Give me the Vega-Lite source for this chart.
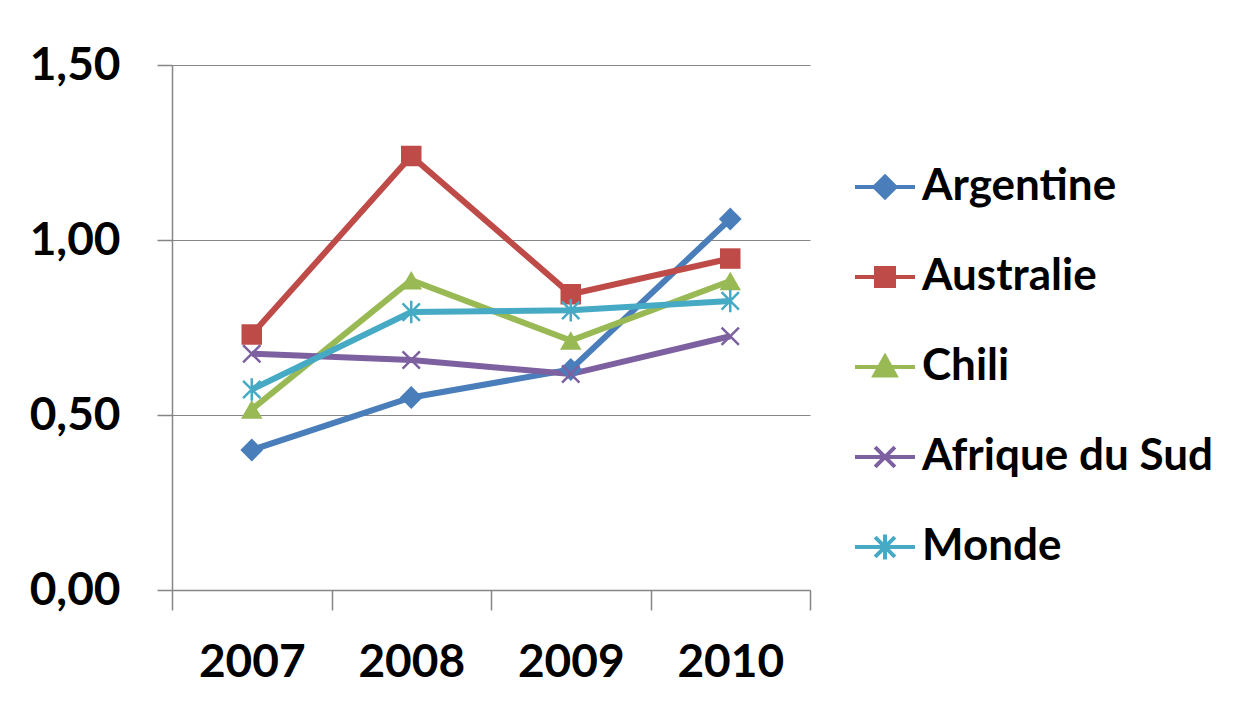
{
  "$schema": "https://vega.github.io/schema/vega-lite/v6.json",
  "width": 638,
  "height": 525,
  "autosize": "none",
  "padding": {"left": 172, "top": 65, "right": 444, "bottom": 126},
  "background": "white",
  "data": {
    "values": [
      {"pays": "Argentine", "annee": "2007", "valeur": 0.40},
      {"pays": "Argentine", "annee": "2008", "valeur": 0.55},
      {"pays": "Argentine", "annee": "2009", "valeur": 0.63},
      {"pays": "Argentine", "annee": "2010", "valeur": 1.06},
      {"pays": "Australie", "annee": "2007", "valeur": 0.73},
      {"pays": "Australie", "annee": "2008", "valeur": 1.24},
      {"pays": "Australie", "annee": "2009", "valeur": 0.845},
      {"pays": "Australie", "annee": "2010", "valeur": 0.947},
      {"pays": "Chili", "annee": "2007", "valeur": 0.516},
      {"pays": "Chili", "annee": "2008", "valeur": 0.885},
      {"pays": "Chili", "annee": "2009", "valeur": 0.713},
      {"pays": "Chili", "annee": "2010", "valeur": 0.883},
      {"pays": "Afrique du Sud", "annee": "2007", "valeur": 0.675},
      {"pays": "Afrique du Sud", "annee": "2008", "valeur": 0.657},
      {"pays": "Afrique du Sud", "annee": "2009", "valeur": 0.617},
      {"pays": "Afrique du Sud", "annee": "2010", "valeur": 0.725},
      {"pays": "Monde", "annee": "2007", "valeur": 0.573},
      {"pays": "Monde", "annee": "2008", "valeur": 0.794},
      {"pays": "Monde", "annee": "2009", "valeur": 0.799},
      {"pays": "Monde", "annee": "2010", "valeur": 0.826}
    ]
  },
  "encoding": {
    "x": {
      "field": "annee",
      "type": "ordinal",
      "scale": {"type": "band", "paddingInner": 0, "paddingOuter": 0},
      "axis": {
        "title": null,
        "labelAngle": 0,
        "tickBand": "extent",
        "tickSize": 20,
        "labelPadding": 30,
        "grid": false
      }
    },
    "y": {
      "field": "valeur",
      "type": "quantitative",
      "scale": {"domain": [0, 1.5], "nice": false},
      "axis": {
        "title": null,
        "values": [0, 0.5, 1, 1.5],
        "format": ".2f",
        "labelExpr": "replace(datum.label, '.', ',')",
        "tickSize": 15,
        "labelPadding": 37,
        "grid": true
      }
    },
    "color": {
      "field": "pays",
      "type": "nominal",
      "scale": {
        "domain": ["Argentine", "Australie", "Chili", "Afrique du Sud", "Monde"],
        "range": ["#4a7ebb", "#be4b48", "#98b954", "#7d60a0", "#46aac5"]
      },
      "legend": {
        "title": null,
        "orient": "none",
        "legendX": 681,
        "legendY": 90,
        "symbolSize": 3600,
        "symbolStrokeWidth": 5,
        "labelFont": "Lato",
        "labelFontWeight": "bold",
        "labelFontSize": 44,
        "labelColor": "black",
        "labelOffset": 5,
        "labelLimit": 400,
        "rowPadding": 36,
        "encode": {
          "symbols": {
            "update": {
              "shape": {
                "signal": "datum.value === 'Argentine' ? 'M-1,0H1M0,-0.35L0.35,0L0,0.35L-0.35,0Z' : datum.value === 'Australie' ? 'M-1,0H1M-0.3,-0.3H0.3V0.3H-0.3Z' : datum.value === 'Chili' ? 'M-1,0H1M0,-0.35L0.35,0.28H-0.35Z' : datum.value === 'Afrique du Sud' ? 'M-1,0H1M-0.33,-0.33L0.33,0.33M-0.33,0.33L0.33,-0.33' : 'M-1,0H1M-0.33,-0.33L0.33,0.33M-0.33,0.33L0.33,-0.33M0,-0.42V0.42'"
              },
              "fill": {"scale": "color", "field": "value"},
              "stroke": {"scale": "color", "field": "value"},
              "strokeWidth": {"value": 4}
            }
          }
        }
      }
    }
  },
  "layer": [
    {
      "mark": {"type": "line", "strokeWidth": 6}
    },
    {
      "transform": [{"filter": "datum.pays === 'Argentine'"}],
      "mark": {"type": "point", "shape": "diamond", "filled": true, "opacity": 1, "size": 520}
    },
    {
      "transform": [{"filter": "datum.pays === 'Australie'"}],
      "mark": {"type": "point", "shape": "square", "filled": true, "opacity": 1, "size": 420}
    },
    {
      "transform": [{"filter": "datum.pays === 'Chili'"}],
      "mark": {"type": "point", "shape": "triangle-up", "filled": true, "opacity": 1, "size": 460}
    },
    {
      "transform": [{"filter": "datum.pays === 'Afrique du Sud'"}],
      "mark": {"type": "point", "shape": "M-1,-1L1,1M-1,1L1,-1", "filled": false, "opacity": 1, "size": 300, "strokeWidth": 2.5}
    },
    {
      "transform": [{"filter": "datum.pays === 'Monde'"}],
      "mark": {"type": "point", "shape": "M-1,-1L1,1M-1,1L1,-1M0,-1.3V1.3", "filled": false, "opacity": 1, "size": 300, "strokeWidth": 2.5}
    }
  ],
  "config": {
    "view": {"stroke": null},
    "axis": {
      "domainColor": "#868686",
      "tickColor": "#868686",
      "gridColor": "#868686",
      "gridOpacity": 1,
      "domainWidth": 1.5,
      "tickWidth": 1.5,
      "labelFont": "Lato",
      "labelFontWeight": "bold",
      "labelFontSize": 46,
      "labelColor": "black"
    }
  }
}
